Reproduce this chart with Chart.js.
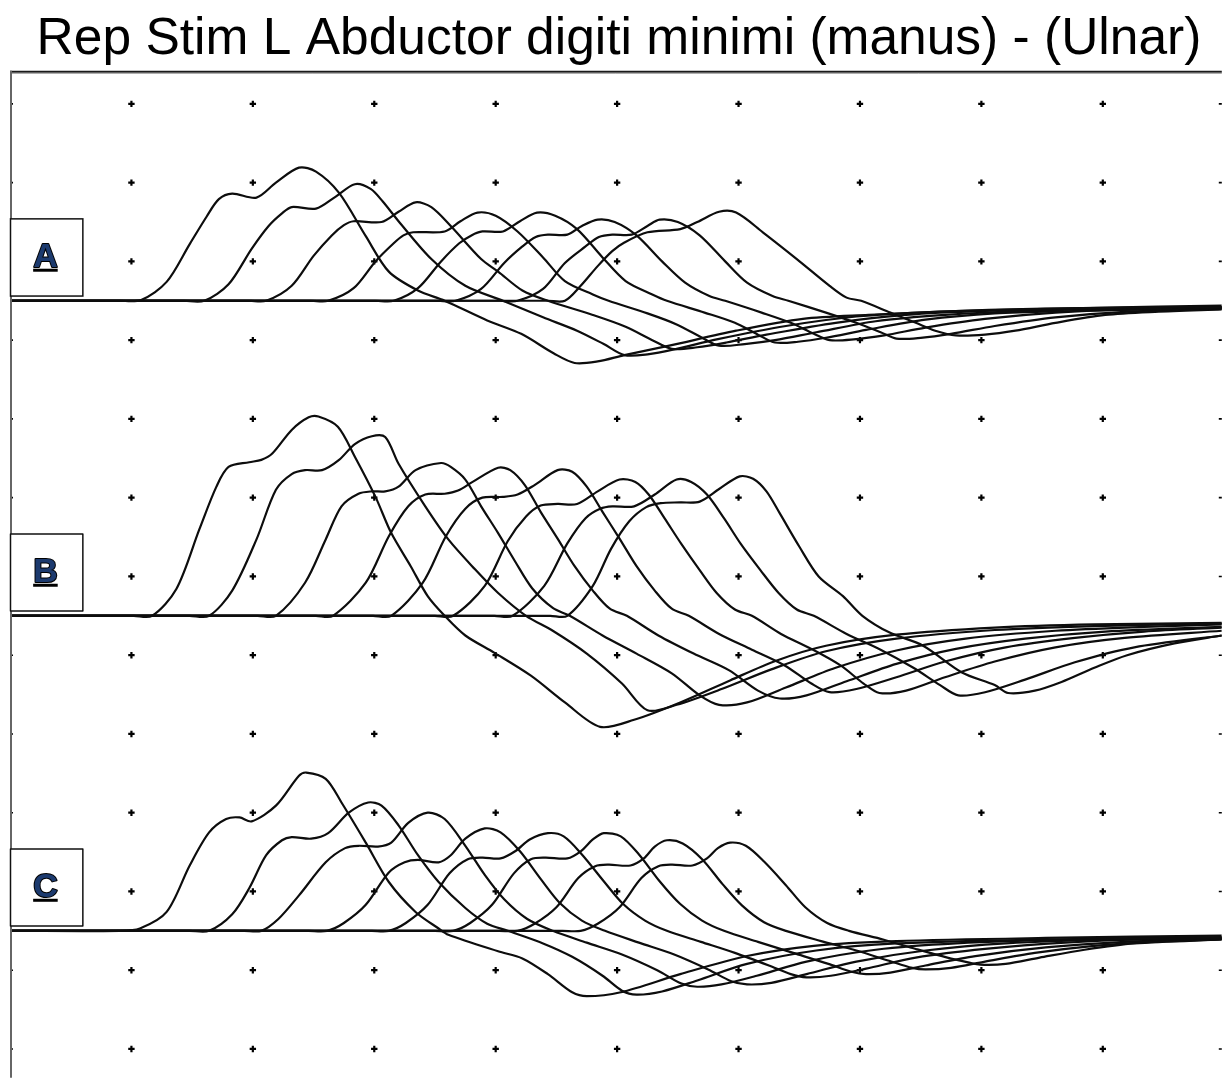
<!DOCTYPE html>
<html>
<head>
<meta charset="utf-8">
<title>Rep Stim L Abductor digiti minimi (manus) - (Ulnar)</title>
<script src="https://cdn.jsdelivr.net/npm/chart.js@4.4.1/dist/chart.umd.min.js"></script>
<style>
  html, body { margin: 0; padding: 0; background: #fff; }
  #wrap { width: 1228px; height: 1084px; position: relative; }
</style>
</head>
<body>
<div id="wrap"><canvas id="repStim"></canvas></div>
<script>
// Traces: [time (div), amplitude (div above the group baseline)]
const groupA = [
  [[0,0],[0.90,0],[1.08,0.01],[1.29,0.24],[1.48,0.72],[1.62,1.07],[1.72,1.29],[1.83,1.36],[2.03,1.31],[2.19,1.50],[2.38,1.69],[2.52,1.64],[2.71,1.37],[2.93,0.82],[3.12,0.37],[3.36,0.13],[3.58,0],[3.93,-0.25],[4.21,-0.42],[4.48,-0.67],[4.65,-0.79],[4.84,-0.77],[5.06,-0.69],[5.43,-0.57],[5.98,-0.38],[6.53,-0.23],[7.07,-0.18],[7.79,-0.13],[8.93,-0.09],[9.98,-0.06]],
  [[0,0],[1.43,0],[1.60,0],[1.80,0.21],[1.99,0.66],[2.13,0.95],[2.24,1.11],[2.32,1.19],[2.52,1.17],[2.68,1.32],[2.84,1.48],[2.97,1.42],[3.07,1.26],[3.20,1.01],[3.47,0.53],[3.75,0.19],[4.06,0],[4.39,-0.21],[4.67,-0.38],[4.89,-0.55],[5.06,-0.69],[5.25,-0.68],[5.49,-0.61],[5.82,-0.49],[6.39,-0.32],[6.97,-0.20],[7.62,-0.14],[8.52,-0.10],[9.98,-0.08]],
  [[0,0],[1.97,0],[2.11,0],[2.32,0.19],[2.50,0.57],[2.65,0.83],[2.75,0.96],[2.83,1.01],[3.06,1.00],[3.20,1.13],[3.34,1.25],[3.47,1.19],[3.63,0.95],[3.88,0.53],[4.02,0.37],[4.22,0.13],[4.43,0],[4.80,-0.18],[5.07,-0.33],[5.29,-0.50],[5.45,-0.61],[5.66,-0.59],[5.90,-0.53],[6.23,-0.43],[6.80,-0.28],[7.38,-0.18],[8.03,-0.13],[8.93,-0.10],[9.98,-0.08]],
  [[0,0],[2.48,0],[2.62,0],[2.83,0.16],[3.01,0.50],[3.16,0.73],[3.24,0.83],[3.32,0.87],[3.58,0.88],[3.71,1.01],[3.85,1.12],[4.00,1.08],[4.18,0.88],[4.39,0.55],[4.57,0.25],[4.80,0.08],[4.93,0],[5.25,-0.16],[5.49,-0.30],[5.70,-0.47],[5.84,-0.57],[6.05,-0.55],[6.30,-0.50],[6.64,-0.40],[7.13,-0.26],[7.70,-0.18],[8.36,-0.13],[9.18,-0.10],[9.98,-0.09]],
  [[0,0],[3.01,0],[3.16,0],[3.36,0.16],[3.55,0.50],[3.70,0.73],[3.80,0.83],[3.89,0.88],[4.06,0.88],[4.20,1.01],[4.34,1.12],[4.49,1.08],[4.67,0.91],[4.88,0.55],[5.07,0.25],[5.29,0.08],[5.41,0],[5.72,-0.15],[5.97,-0.28],[6.16,-0.43],[6.30,-0.53],[6.49,-0.52],[6.72,-0.47],[7.05,-0.37],[7.54,-0.24],[8.11,-0.16],[8.77,-0.13],[9.98,-0.09]],
  [[0,0],[3.52,0],[3.67,0],[3.88,0.15],[4.07,0.48],[4.22,0.69],[4.33,0.81],[4.43,0.84],[4.59,0.84],[4.71,0.95],[4.84,1.03],[4.98,1.00],[5.16,0.83],[5.37,0.50],[5.56,0.23],[5.76,0.06],[5.89,0],[6.19,-0.15],[6.43,-0.28],[6.62,-0.42],[6.75,-0.50],[6.95,-0.49],[7.20,-0.44],[7.54,-0.34],[8.03,-0.23],[8.61,-0.15],[9.26,-0.11],[9.98,-0.10]],
  [[0,0],[4.03,0],[4.18,0],[4.39,0.15],[4.57,0.48],[4.74,0.69],[4.85,0.81],[4.96,0.84],[5.12,0.84],[5.25,0.95],[5.35,1.03],[5.50,1.00],[5.68,0.83],[5.89,0.50],[6.07,0.23],[6.28,0.06],[6.41,0],[6.72,-0.15],[6.97,-0.28],[7.17,-0.40],[7.30,-0.48],[7.50,-0.47],[7.75,-0.42],[8.11,-0.32],[8.61,-0.21],[9.18,-0.14],[9.98,-0.10]],
  [[0,0],[4.43,0],[4.57,0],[4.70,0.19],[4.84,0.44],[4.96,0.63],[5.06,0.74],[5.25,0.87],[5.52,0.91],[5.66,1.00],[5.84,1.13],[5.98,1.12],[6.20,0.87],[6.48,0.53],[6.75,0.19],[6.89,0.04],[7.01,0],[7.25,-0.15],[7.46,-0.28],[7.62,-0.38],[7.79,-0.44],[8.03,-0.43],[8.28,-0.38],[8.61,-0.28],[9.02,-0.18],[9.43,-0.14],[9.98,-0.11]]
];

const groupB = [
  [[0,0],[1.02,0],[1.17,0],[1.37,0.34],[1.56,1.10],[1.70,1.64],[1.80,1.89],[1.97,1.95],[2.07,1.98],[2.16,2.06],[2.32,2.36],[2.46,2.52],[2.54,2.53],[2.70,2.40],[2.84,2.02],[3.01,1.51],[3.14,1.05],[3.30,0.63],[3.44,0.25],[3.58,0],[3.75,-0.25],[3.99,-0.47],[4.29,-0.76],[4.57,-1.10],[4.86,-1.41],[5.14,-1.32],[5.52,-1.10],[5.93,-0.82],[6.31,-0.57],[6.72,-0.38],[7.30,-0.24],[8.11,-0.15],[8.93,-0.11],[9.98,-0.09]],
  [[0,0],[1.48,0],[1.64,0],[1.83,0.32],[2.03,0.97],[2.19,1.60],[2.32,1.80],[2.43,1.85],[2.57,1.85],[2.71,1.98],[2.84,2.18],[2.98,2.28],[3.09,2.27],[3.20,1.93],[3.42,1.39],[3.61,0.97],[3.83,0.59],[4.02,0.29],[4.25,0],[4.47,-0.19],[4.75,-0.48],[5.04,-0.86],[5.25,-1.20],[5.49,-1.13],[5.86,-0.93],[6.27,-0.68],[6.72,-0.45],[7.30,-0.29],[8.11,-0.18],[8.93,-0.13],[9.98,-0.10]],
  [[0,0],[2.04,0],[2.19,0],[2.43,0.42],[2.60,0.97],[2.73,1.39],[2.87,1.55],[2.98,1.58],[3.09,1.58],[3.20,1.64],[3.34,1.85],[3.55,1.94],[3.63,1.89],[3.75,1.73],[3.88,1.39],[4.02,1.05],[4.16,0.69],[4.30,0.35],[4.47,0.10],[4.61,0],[4.88,-0.25],[5.16,-0.48],[5.45,-0.73],[5.68,-1.01],[5.84,-1.13],[6.07,-1.10],[6.39,-0.91],[6.80,-0.66],[7.30,-0.44],[7.87,-0.29],[8.61,-0.19],[9.34,-0.14],[9.98,-0.11]],
  [[0,0],[2.52,0],[2.66,0],[2.93,0.42],[3.12,1.01],[3.28,1.39],[3.42,1.54],[3.58,1.55],[3.69,1.59],[3.81,1.70],[4.02,1.88],[4.12,1.85],[4.24,1.66],[4.37,1.32],[4.51,0.98],[4.65,0.63],[4.80,0.32],[4.94,0.09],[5.08,0],[5.34,-0.25],[5.63,-0.48],[5.92,-0.69],[6.16,-0.95],[6.34,-1.05],[6.56,-1.01],[6.89,-0.83],[7.30,-0.61],[7.79,-0.42],[8.36,-0.29],[9.02,-0.20],[9.98,-0.14]],
  [[0,0],[2.99,0],[3.14,0],[3.40,0.42],[3.59,1.01],[3.75,1.36],[3.89,1.50],[4.06,1.51],[4.18,1.54],[4.32,1.66],[4.51,1.85],[4.63,1.83],[4.75,1.64],[4.88,1.32],[5.02,0.98],[5.16,0.63],[5.31,0.32],[5.45,0.09],[5.59,0],[5.84,-0.23],[6.11,-0.43],[6.38,-0.63],[6.60,-0.86],[6.75,-0.97],[6.97,-0.93],[7.30,-0.78],[7.70,-0.58],[8.20,-0.40],[8.77,-0.28],[9.34,-0.20],[9.98,-0.15]],
  [[0,0],[3.50,0],[3.65,0],[3.91,0.38],[4.10,0.95],[4.25,1.26],[4.37,1.40],[4.51,1.42],[4.67,1.42],[4.84,1.58],[5.02,1.73],[5.15,1.70],[5.26,1.54],[5.39,1.24],[5.53,0.91],[5.68,0.58],[5.82,0.29],[5.97,0.08],[6.11,0],[6.35,-0.23],[6.60,-0.42],[6.84,-0.63],[7.03,-0.86],[7.16,-0.98],[7.38,-0.95],[7.70,-0.78],[8.11,-0.58],[8.61,-0.40],[9.18,-0.28],[9.98,-0.19]],
  [[0,0],[3.99,0],[4.14,0],[4.40,0.38],[4.59,0.92],[4.74,1.24],[4.86,1.36],[4.96,1.39],[5.14,1.39],[5.31,1.54],[5.49,1.73],[5.61,1.70],[5.74,1.54],[5.88,1.24],[6.02,0.91],[6.18,0.58],[6.33,0.29],[6.48,0.08],[6.62,0],[6.89,-0.23],[7.17,-0.43],[7.44,-0.66],[7.66,-0.88],[7.81,-1.01],[8.03,-0.97],[8.36,-0.81],[8.77,-0.59],[9.26,-0.40],[9.98,-0.25]],
  [[0,0],[4.45,0],[4.59,0],[4.80,0.38],[4.95,0.85],[5.10,1.20],[5.24,1.38],[5.36,1.43],[5.52,1.44],[5.68,1.45],[5.84,1.61],[6.01,1.77],[6.12,1.74],[6.23,1.58],[6.34,1.30],[6.50,0.88],[6.66,0.50],[6.86,0.25],[7.02,0],[7.24,-0.21],[7.52,-0.38],[7.84,-0.72],[8.11,-0.88],[8.22,-0.98],[8.44,-0.95],[8.66,-0.84],[8.93,-0.66],[9.20,-0.50],[9.59,-0.35],[9.98,-0.25]]
];

const groupC = [
  [[0,0],[0.90,0],[1.07,0.03],[1.29,0.24],[1.48,0.83],[1.64,1.25],[1.78,1.42],[1.89,1.44],[1.99,1.39],[2.19,1.59],[2.38,1.97],[2.44,2.01],[2.60,1.93],[2.73,1.63],[2.93,1.12],[3.12,0.62],[3.34,0.24],[3.53,0.03],[3.61,-0.05],[4.02,-0.26],[4.22,-0.35],[4.43,-0.55],[4.63,-0.78],[4.75,-0.83],[5.03,-0.78],[5.52,-0.55],[6.07,-0.32],[6.62,-0.19],[7.30,-0.13],[8.53,-0.09],[9.98,-0.06]],
  [[0,0],[1.48,0],[1.64,0],[1.83,0.21],[1.97,0.54],[2.11,0.96],[2.24,1.15],[2.32,1.19],[2.48,1.17],[2.62,1.24],[2.79,1.50],[2.95,1.63],[3.06,1.59],[3.20,1.34],[3.36,0.96],[3.53,0.62],[3.75,0.29],[3.93,0.09],[4.10,0],[4.39,-0.16],[4.63,-0.33],[4.88,-0.57],[5.04,-0.76],[5.16,-0.81],[5.37,-0.77],[5.66,-0.63],[6.07,-0.42],[6.64,-0.25],[7.30,-0.16],[8.52,-0.11],[9.98,-0.08]],
  [[0,0],[1.93,0],[2.07,0],[2.21,0.15],[2.38,0.45],[2.60,0.87],[2.76,1.05],[2.87,1.08],[3.03,1.07],[3.14,1.12],[3.28,1.37],[3.44,1.50],[3.58,1.42],[3.75,1.08],[3.91,0.71],[4.07,0.40],[4.26,0.15],[4.47,0],[4.75,-0.15],[5.04,-0.30],[5.33,-0.50],[5.53,-0.67],[5.66,-0.71],[5.86,-0.68],[6.15,-0.57],[6.56,-0.39],[7.13,-0.24],[7.79,-0.16],[8.77,-0.11],[9.98,-0.09]],
  [[0,0],[2.46,0],[2.61,0],[2.75,0.10],[2.93,0.33],[3.12,0.74],[3.25,0.87],[3.36,0.90],[3.53,0.87],[3.63,0.96],[3.75,1.17],[3.91,1.30],[4.04,1.25],[4.20,1.01],[4.37,0.66],[4.53,0.35],[4.71,0.13],[4.90,0],[5.18,-0.15],[5.47,-0.30],[5.75,-0.49],[5.94,-0.64],[6.07,-0.68],[6.27,-0.66],[6.56,-0.55],[6.97,-0.39],[7.54,-0.25],[8.20,-0.16],[9.10,-0.11],[9.98,-0.10]],
  [[0,0],[2.98,0],[3.12,0],[3.26,0.10],[3.44,0.33],[3.62,0.73],[3.77,0.91],[3.89,0.93],[4.04,0.92],[4.16,1.01],[4.28,1.16],[4.43,1.24],[4.56,1.20],[4.71,0.97],[4.89,0.63],[5.05,0.34],[5.23,0.13],[5.41,0],[5.69,-0.14],[5.97,-0.28],[6.25,-0.44],[6.43,-0.55],[6.56,-0.59],[6.76,-0.57],[7.05,-0.48],[7.46,-0.34],[8.03,-0.23],[8.69,-0.15],[9.34,-0.11],[9.98,-0.10]],
  [[0,0],[3.50,0],[3.65,0],[3.79,0.10],[3.97,0.33],[4.15,0.73],[4.29,0.91],[4.41,0.93],[4.59,0.92],[4.70,1.01],[4.80,1.16],[4.89,1.24],[5.03,1.20],[5.18,0.97],[5.35,0.63],[5.52,0.34],[5.70,0.13],[5.88,0],[6.16,-0.14],[6.45,-0.28],[6.74,-0.42],[6.93,-0.52],[7.05,-0.55],[7.25,-0.53],[7.54,-0.44],[7.95,-0.32],[8.53,-0.21],[9.18,-0.14],[9.98,-0.10]],
  [[0,0],[4.03,0],[4.18,0],[4.32,0.09],[4.50,0.30],[4.68,0.67],[4.82,0.82],[4.93,0.84],[5.11,0.83],[5.22,0.92],[5.31,1.07],[5.41,1.15],[5.54,1.11],[5.70,0.91],[5.87,0.59],[6.03,0.32],[6.21,0.11],[6.39,0],[6.68,-0.13],[6.97,-0.25],[7.24,-0.38],[7.43,-0.47],[7.54,-0.49],[7.75,-0.47],[8.03,-0.39],[8.44,-0.28],[8.93,-0.19],[9.43,-0.14],[9.98,-0.11]],
  [[0,0],[4.55,0],[4.70,0],[4.84,0.09],[5.02,0.30],[5.20,0.67],[5.34,0.82],[5.45,0.84],[5.62,0.83],[5.74,0.92],[5.83,1.05],[5.93,1.12],[6.06,1.08],[6.21,0.88],[6.39,0.58],[6.55,0.30],[6.73,0.10],[6.91,0],[7.19,-0.11],[7.46,-0.23],[7.72,-0.34],[7.89,-0.40],[7.99,-0.43],[8.20,-0.42],[8.48,-0.34],[8.85,-0.24],[9.26,-0.16],[9.98,-0.11]]
];

const groupLabels = ['A', 'B', 'C'];
const groupBaselines = [9.5, 5.5, 1.5];
const gridX = [1, 2, 3, 4, 5, 6, 7, 8, 9];
const gridY = [0, 1, 2, 3, 4, 5, 6, 7, 8, 9, 10, 11, 12];
const X_MAX = 9.98;

function toPoints(trace, base) {
    return trace.map(([t, v]) => ({ x: t, y: base + v }));
}

const datasets = [];
[groupA, groupB, groupC].forEach((group, g) => {
    group.forEach(trace => {
        datasets.push({
            data: toPoints(trace, groupBaselines[g]),
            showLine: true,
            borderColor: '#0d0d0d',
            borderWidth: 2.2,
            pointRadius: 0,
            tension: 0.3,
            order: 1
        });
    });
});

// dotted grid
const dots = [];
gridY.forEach(y => gridX.forEach(x => dots.push({ x, y })));
datasets.push({
    data: dots,
    showLine: false,
    pointStyle: 'cross',
    pointRadius: 3.2,
    borderColor: '#000',
    borderWidth: 2.2,
    order: 5
});

// small ticks on the frame edges
const edgeTicks = [];
gridY.forEach(y => { edgeTicks.push({ x: 0, y }); edgeTicks.push({ x: X_MAX, y }); });
datasets.push({
    data: edgeTicks,
    showLine: false,
    pointStyle: 'line',
    pointRadius: 3,
    borderColor: '#000',
    borderWidth: 1.6,
    order: 5
});

// frame lines and A/B/C tags
const framePlugin = {
    id: 'frame',
    afterDatasetsDraw(chart) {
        const { ctx, chartArea: a, scales: { x, y } } = chart;
        ctx.save();
        ctx.strokeStyle = '#1a1a1a';
        ctx.lineWidth = 2;
        ctx.beginPath();
        ctx.moveTo(a.left, a.top + 1);
        ctx.lineTo(a.right, a.top + 1);
        ctx.stroke();
        ctx.strokeStyle = '#9a9a9a';
        ctx.lineWidth = 1;
        ctx.beginPath();
        ctx.moveTo(a.left, a.top + 2.5);
        ctx.lineTo(a.right, a.top + 2.5);
        ctx.stroke();
        ctx.strokeStyle = '#666';
        ctx.lineWidth = 2;
        ctx.beginPath();
        ctx.moveTo(a.left + 1, a.top);
        ctx.lineTo(a.left + 1, a.bottom);
        ctx.stroke();

        groupLabels.forEach((label, i) => {
            const base = groupBaselines[i];
            const left = x.getPixelForValue(0);
            const right = x.getPixelForValue(0.6);
            const top = y.getPixelForValue(base + 1.04);
            const bottom = y.getPixelForValue(base + 0.06);
            ctx.fillStyle = '#fff';
            ctx.fillRect(left, top, right - left, bottom - top);
            ctx.strokeStyle = '#111';
            ctx.lineWidth = 1.5;
            ctx.strokeRect(left + 0.5, top, right - left - 0.5, bottom - top);

            const cx = (left + right) / 2 - 1;
            const by = top + (bottom - top) * 0.62;
            ctx.font = 'bold 34px "Liberation Sans", Arial, sans-serif';
            ctx.textAlign = 'center';
            ctx.textBaseline = 'alphabetic';
            ctx.lineJoin = 'round';
            ctx.strokeStyle = '#000';
            ctx.lineWidth = 2;
            ctx.strokeText(label, cx, by);
            ctx.fillStyle = '#1c3a6e';
            ctx.fillText(label, cx, by);
            const w = ctx.measureText(label).width;
            ctx.fillStyle = '#000';
            ctx.fillRect(cx - w / 2, by + 2, w, 3);
        });
        ctx.restore();
    }
};

new Chart(document.getElementById('repStim').getContext('2d'), {
    type: 'scatter',
    data: { datasets },
    options: {
        responsive: true,
        maintainAspectRatio: false,
        animation: false,
        events: [],
        layout: { padding: { left: 10, right: 0, top: 0, bottom: 0 } },
        scales: {
            x: { type: 'linear', display: false, min: 0, max: X_MAX },
            y: { type: 'linear', display: false, min: -0.366, max: 12.42 }
        },
        plugins: {
            legend: { display: false },
            tooltip: { enabled: false },
            title: {
                display: true,
                text: 'Rep Stim L Abductor digiti minimi (manus) - (Ulnar)',
                color: '#000',
                font: { family: '"Liberation Sans", Arial, sans-serif', size: 51.5, weight: 'normal' },
                padding: { top: 9, bottom: 0 }
            }
        }
    },
    plugins: [framePlugin]
});
</script>
</body>
</html>
